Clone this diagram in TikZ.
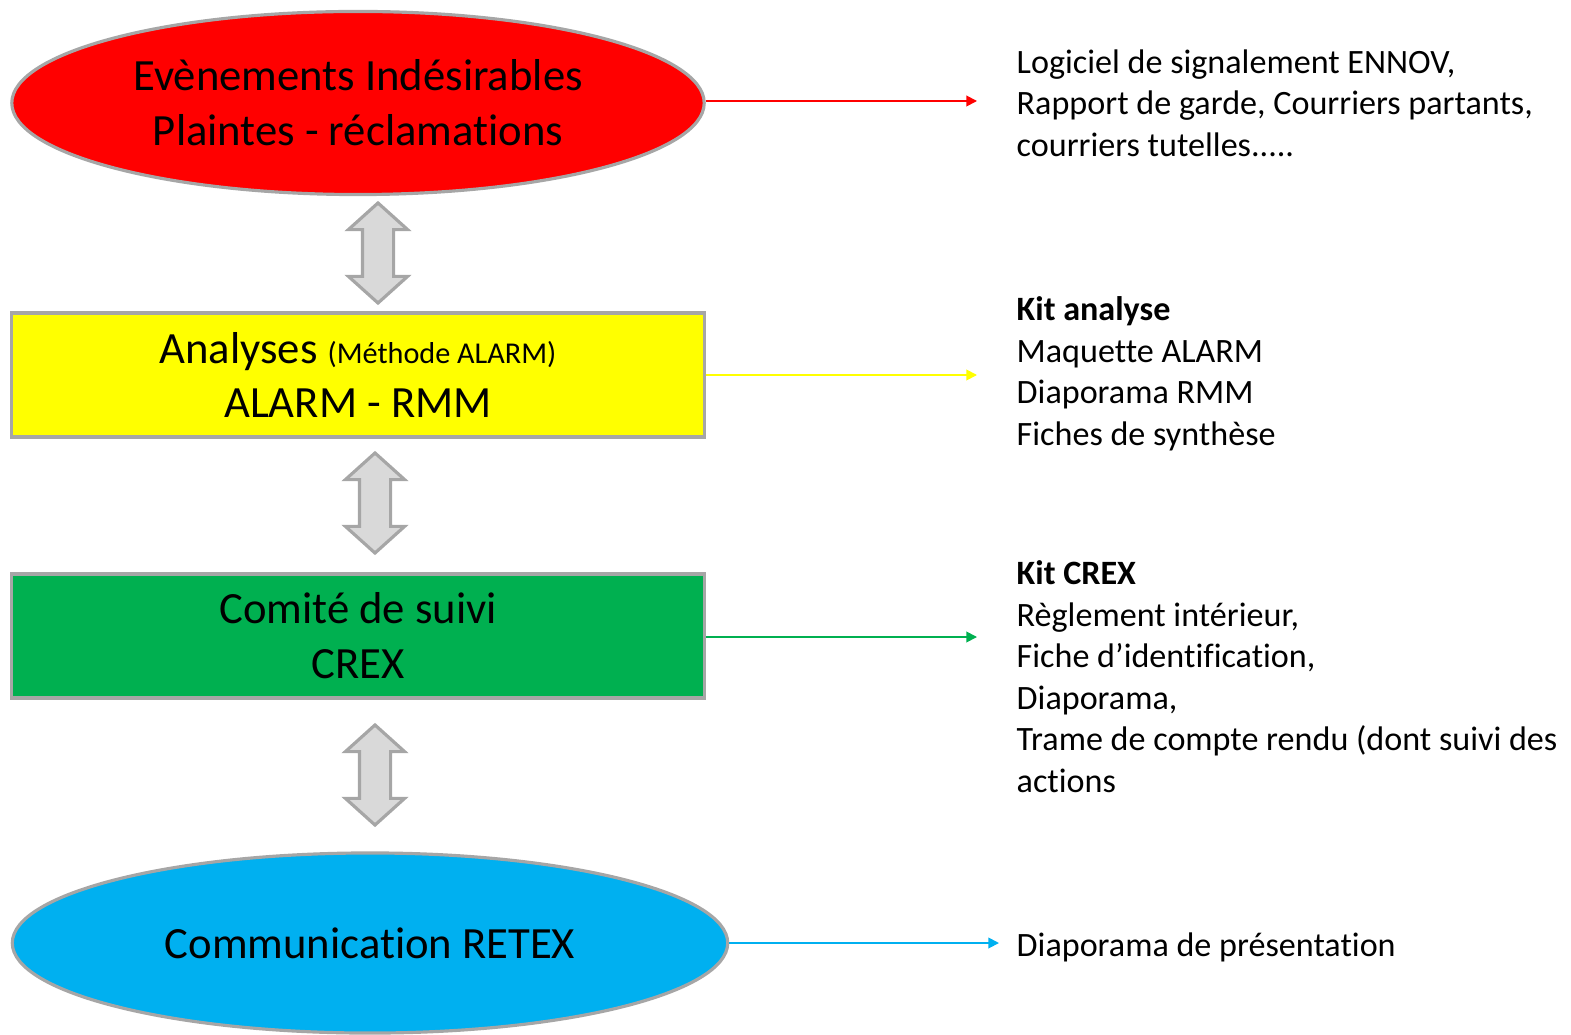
\documentclass[tikz,border=0pt]{standalone}
\usepackage{fontspec}
\setmainfont{Carlito}[Ligatures=CommonOff]
\usepackage{tikz}
\usetikzlibrary{arrows.meta}
\usetikzlibrary{shapes.geometric,shapes.arrows}
\usetikzlibrary{calc}
\definecolor{bordgris}{HTML}{A6A6A6}
\definecolor{flgris}{HTML}{D9D9D9}
\definecolor{jaune}{HTML}{FFFF00}
\definecolor{vertcrex}{HTML}{00B050}
\definecolor{bleuretex}{HTML}{00B0F0}
\tikzset{
  etape/.style = {align=center, inner sep=0pt, draw=bordgris, line width=0.9pt,
    font=\fontsize{12.7}{15.6}\selectfont},
  etape_e/.style = {etape, ellipse},% etape ovale
  etape_r/.style = {etape, rectangle, minimum width=6.92cm, minimum height=1.24cm},% etape boite
  kit/.style = {anchor=north west, align=left, inner sep=0pt,
    font=\fontsize{9.7}{11.8}\selectfont},
  va_et_vient/.style = {double arrow, rotate=90, draw=bordgris, fill=flgris,
    line width=0.9pt, inner sep=0pt, inner ysep=0.14cm, minimum height=1cm,
    double arrow head extend=0.14cm, double arrow tip angle=96,
    double arrow head indent=0pt},% fleche double grise
  lien/.style = {line width=0.5pt, -{Triangle[length=3pt,width=3pt]}}
}

\begin{document}
\begin{tikzpicture}[x=0.01cm,y=-0.01cm]
\useasboundingbox (0,0) rectangle (1571,1034);

% colonne de gauche
\node [etape_e, fill=red, minimum width=6.92cm, minimum height=1.83cm] (eig) at (358,103)
  {Evènements Indésirables\\Plaintes - réclamations};
\node [etape_r, fill=jaune] (ana) at (358,375)
  {Analyses {\fontsize{8.6}{10}\selectfont(Méthode ALARM)}\\ALARM - RMM};
\node [etape_r, fill=vertcrex] (crex) at (358,636)
  {Comité de suivi\\CREX};
\node [etape_e, fill=bleuretex, minimum width=7.15cm, minimum height=1.80cm] (retex) at (370,943)
  {Communication RETEX};

\node [va_et_vient] (f1) at (378,253) {};
\node [va_et_vient] (f2) at (375,503) {};
\node [va_et_vient] (f3) at (375,775) {};

% outils a droite
\node [kit] (k1) at (1016,49)
  {Logiciel de signalement ENNOV,\\Rapport de garde, Courriers partants,\\courriers tutelles.....};
\node [kit] (k2) at (1016,296)
  {\textbf{Kit analyse}\\Maquette ALARM\\Diaporama RMM\\Fiches de synthèse};
\node [kit] (k3) at (1016,560)
  {\textbf{Kit CREX}\\Règlement intérieur,\\Fiche d’identification,\\Diaporama,\\Trame de compte rendu (dont suivi des\\actions};
\node [kit, anchor=base west] (k4) at (1016,956) {Diaporama de présentation};

\coordinate (c1) at (977,101);
\coordinate (c2) at (977,375);
\coordinate (c3) at (977,637);
\coordinate (c4) at (999,943);

\draw [lien, red] (eig.east |- c1) -- (c1);
\draw [lien, jaune] (ana.east |- c2) -- (c2);
\draw [lien, vertcrex] (crex.east |- c3) -- (c3);
\draw [lien, bleuretex] (retex.east |- c4) -- (c4);
\end{tikzpicture}
\end{document}
